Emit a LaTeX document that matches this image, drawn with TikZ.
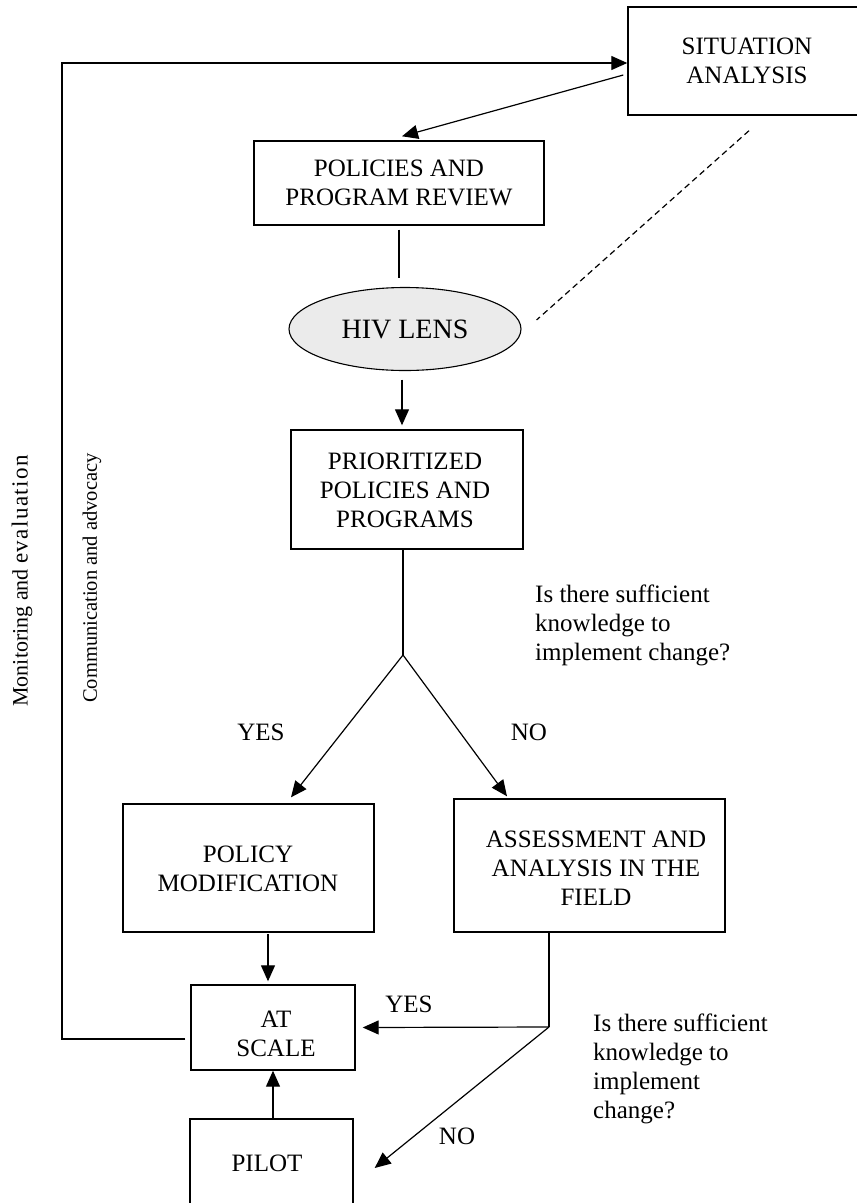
\documentclass[tikz,border=0pt]{standalone}
\usepackage{fontspec}
\setmainfont{Liberation Serif}
\usetikzlibrary{arrows.meta,shapes.geometric,calc}

\begin{document}
\begin{tikzpicture}[x=1pt,y=-1pt,
  txt/.style={font=\fontsize{25}{29}\selectfont, align=center, inner sep=0pt},
  box/.style={draw, line width=1.4pt, inner sep=0pt, txt},
  link/.style={line width=1.2pt},
  arr/.style={link, -{Triangle[length=16pt,width=14pt]}},
  side/.style={rotate=90, inner sep=0pt, anchor=center}]
\useasboundingbox (0,0) rectangle (857,1203);
\clip (0,0) rectangle (857,1203);

% boxes
\node[box, minimum width=238, minimum height=108] (sit) at (747,61) {SITUATION\\ANALYSIS};
\node[box, minimum width=290, minimum height=84] (pol) at (399,183) {POLICIES AND\\PROGRAM REVIEW};
\node[draw, line width=1.1pt, ellipse, fill=black!8, minimum width=232, minimum height=83, inner sep=0pt,
      font=\fontsize{28}{32}\selectfont] (hiv) at (405,329) {HIV LENS};
\node[box, minimum width=232, minimum height=119] (pri) at (407,489.5) {};
\node[txt] (pri-t) at (405,490) {PRIORITIZED\\POLICIES AND\\PROGRAMS};
\node[box, minimum width=251, minimum height=128] (pm) at (248.5,868) {};
\node[txt] (pm-t) at (248,869) {POLICY\\MODIFICATION};
\node[box, minimum width=271, minimum height=133] (as) at (589.5,865.5) {};
\node[txt] (as-t) at (596,868) {ASSESSMENT AND\\ANALYSIS IN THE\\FIELD};
\node[box, minimum width=164, minimum height=85] (at) at (273,1027.5) {};
\node[txt] (at-t) at (276,1033.5) {AT\\SCALE};
\node[box, minimum width=163, minimum height=88] (pil) at (271.5,1163) {};
\node[txt] (pil-t) at (267,1163) {PILOT};

% labels
\node[txt] (yes1) at (261,732) {YES};
\node[txt] (no1) at (529,732) {NO};
\node[txt, anchor=west, align=left] (q1) at (535,625.5) {Is there sufficient\\knowledge to\\implement change?};
\node[txt] (yes2) at (409,1004) {YES};
\node[txt] (no2) at (457,1136) {NO};
\node[txt, anchor=west, align=left] (q2) at (593,1069) {Is there sufficient\\knowledge to\\implement\\change?};

\node[side, font=\fontsize{22}{26}\selectfont] (me) at (22,581)
  {Monitoring and {\fontsize{23}{26}\selectfont\addfontfeature{LetterSpace=6}evaluation}};
\node[side, font=\fontsize{20.5}{24}\selectfont] (ca) at (92,578) {Communication and advocacy};

% connectors
\coordinate (fb) at (62,63);
\coordinate (apex) at (403,655);
\coordinate (split) at (549,1027);

\draw[arr] ($(at.west)+(-5,11.5)$) -| (fb) -- (fb -| sit.west);
\draw[arr] ($(sit.west)+(-4,14)$) -- ($(pol.north)+(3,-4)$);
\draw[link] ($(pol.south)+(0,4)$) -- ($(pol.south)+(0,52)$);
\draw[link, dash pattern=on 6pt off 4pt] ($(sit.south)+(2,15)$) -- ($(hiv.east)+(15,-9)$);
\draw[arr] ($(hiv.south)+(-3,8.5)$) -- ($(pri.north)+(-5,-4)$);
\draw[link] (apex |- pri.south) -- (apex);
\draw[arr] (apex) -- ($(pm.north)+(42.5,-6)$);
\draw[arr] (apex) -- ($(as.north)+(-82.5,-2)$);
\draw[arr] ($(at.north)+(-5,-50)$) -- ($(at.north)+(-5,-3)$);
\draw[link] (split |- as.south) -- (split);
\draw[arr] (split) -- ($(at.east)+(7,0)$);
\draw[arr] (split) -- ($(pil.east)+(21,5)$);
\draw[arr] (at.south |- pil.north) -- (at.south);
\end{tikzpicture}
\end{document}
